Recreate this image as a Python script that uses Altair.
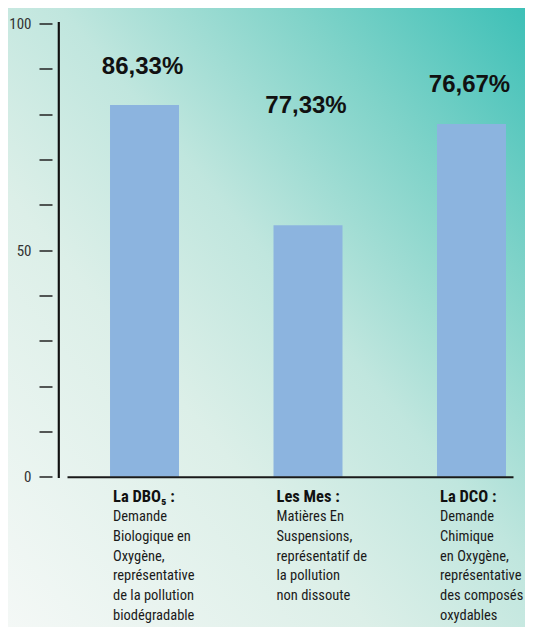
import altair as alt
import pandas as pd

# ---- data ----
categories = ["DBO5", "MES", "DCO"]
bar_values = [82.0, 55.5, 77.8]
pct_labels = ["86,33%", "77,33%", "76,67%"]
label_level = [90.5, 81.8, 86.5]
titles = ["La DBO\u2085 :", "Les Mes :", "La DCO :"]
descriptions = [
    "Demande\nBiologique en\nOxygène,\nreprésentative\nde la pollution\nbiodégradable",
    "Matières En\nSuspensions,\nreprésentatif de\nla pollution\nnon dissoute",
    "Demande\nChimique\nen Oxygène,\nreprésentative\ndes composés\noxydables",
]
y_ticks = [0, 10, 20, 30, 40, 50, 60, 70, 80, 90, 100]

df = pd.DataFrame({
    "cat": categories,
    "v": bar_values,
    "pct": pct_labels,
    "lvl": label_level,
    "title": titles,
    "desc": descriptions,
})

W, H = 446, 453.2
NARROW = "Liberation Sans Narrow, Roboto Condensed, DejaVu Sans Condensed, Liberation Sans, sans-serif"

x_scale = alt.Scale(domain=categories, paddingInner=0.578, paddingOuter=0.153, align=0.86)
y_scale = alt.Scale(domain=[0, 100], nice=False, zero=True)

x_enc = alt.X("cat:N", sort=categories, scale=x_scale,
              axis=alt.Axis(orient="bottom", domain=True, domainWidth=2, domainColor="#1a1a1a",
                            ticks=False, labels=False, grid=False, title=None, zindex=2))
y_enc = alt.Y("v:Q", scale=y_scale,
              axis=alt.Axis(orient="left", offset=15, domain=False, grid=False,
                            values=y_ticks, tickSize=13, tickWidth=1.5, tickColor="#222222",
                            labelExpr="datum.value % 50 == 0 ? datum.label : ''",
                            labelPadding=8, labelFont=NARROW, labelFontSize=15,
                            labelColor="#333333", title=None, zindex=2))

bg_grad = alt.Gradient(
    gradient="linear",
    stops=[
        alt.GradientStop(offset=0, color="#f4f8f6"),
        alt.GradientStop(offset=0.35, color="#dcefe8"),
        alt.GradientStop(offset=0.55, color="#c0e6de"),
        alt.GradientStop(offset=0.78, color="#80d3c9"),
        alt.GradientStop(offset=1, color="#3ec0b7"),
    ],
    x1=0, y1=1, x2=1, y2=0,
)

background = alt.Chart(pd.DataFrame({"k": [0]})).mark_rect(color=bg_grad).encode(
    x=alt.value(-59), x2=alt.value(W + 12),
    y=alt.value(-15.5), y2=alt.value(H + 151),
)

base = alt.Chart(df)

bars = base.mark_bar(color="#8cb4df").encode(x=x_enc, y=y_enc)

vline = base.mark_rule(color="#111111", strokeWidth=1.6).encode(
    x=alt.value(-8.3), y=alt.value(-1.5), y2=alt.value(H + 1.3)
)

pct = base.mark_text(font="Liberation Sans, Arial, sans-serif", fontSize=24, fontWeight="bold",
                     color="#111111", align="center", baseline="middle", dx=-2).encode(
    x=alt.X("cat:N", sort=categories, scale=x_scale),
    y=alt.Y("lvl:Q", scale=y_scale),
    text="pct:N",
)

title_txt = base.mark_text(font=NARROW, fontSize=16.5, fontWeight="bold", color="#111111",
                           align="left", baseline="alphabetic", dx=3).encode(
    x=alt.X("cat:N", sort=categories, scale=x_scale, bandPosition=0),
    y=alt.value(H + 25.3),
    text="title:N",
)

desc_txt = base.mark_text(font=NARROW, fontSize=14.5, color="#1a1a1a", align="left",
                          baseline="alphabetic", lineBreak="\n", lineHeight=19.8, dx=3).encode(
    x=alt.X("cat:N", sort=categories, scale=x_scale, bandPosition=0),
    y=alt.value(H + 44.3),
    text="desc:N",
)

chart = alt.layer(background, bars, vline, pct, title_txt, desc_txt).properties(
    width=W, height=H,
    autosize=alt.AutoSizeParams(type="none"),
    padding={"left": 59, "top": 15.5, "right": 12, "bottom": 150.3},
).configure_view(stroke="transparent")

chart.save("out.html", embed_options={"renderer": "svg", "actions": False})
